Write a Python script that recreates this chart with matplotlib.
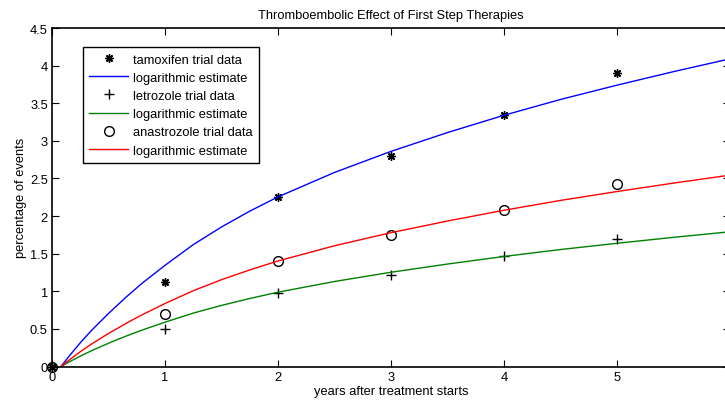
import matplotlib
matplotlib.use('Agg')
import matplotlib.pyplot as plt

plt.rcParams['font.family'] = ['Liberation Sans', 'DejaVu Sans']

# trial data
years = [0, 1, 2, 3, 4, 5]
tamoxifen = [0, 1.12, 2.25, 2.80, 3.35, 3.90]
letrozole = [0, 0.50, 0.98, 1.22, 1.47, 1.70]
anastrozole = [0, 0.70, 1.40, 1.75, 2.08, 2.43]

# logarithmic estimates
est_x = [0.08, 0.15, 0.25, 0.35, 0.5, 0.65, 0.8, 1.0, 1.25, 1.5, 1.75, 2.0,
         2.5, 3.0, 3.5, 4.0, 4.5, 5.0, 5.5, 6.0]
est_tamoxifen = [0, 0.135, 0.315, 0.48, 0.705, 0.915, 1.11, 1.345, 1.62, 1.855, 2.065, 2.255,
                 2.58, 2.86, 3.11, 3.34, 3.55, 3.74, 3.92, 4.09]
est_letrozole = [0, 0.059, 0.138, 0.210, 0.309, 0.401, 0.486, 0.589, 0.710, 0.812, 0.904, 0.988,
                 1.130, 1.253, 1.362, 1.463, 1.555, 1.638, 1.717, 1.791]
est_anastrozole = [0, 0.084, 0.196, 0.299, 0.439, 0.569, 0.690, 0.837, 1.008, 1.154, 1.284, 1.403,
                   1.605, 1.779, 1.934, 2.077, 2.208, 2.326, 2.438, 2.544]

fig = plt.figure(figsize=(7.25, 4.02), dpi=100)
ax = fig.add_axes([52 / 725, 34.5 / 402, 678 / 725, 338.5 / 402])

asterisk = (8, 2, 0)
ax.plot(years, tamoxifen, linestyle='none', marker=asterisk, color='black',
        markersize=6, markeredgewidth=1, clip_on=False, label='tamoxifen trial data')
ax.plot(est_x, est_tamoxifen, color='blue', linewidth=1, label='logarithmic estimate')
ax.plot(years, letrozole, linestyle='none', marker='+', color='black',
        markersize=7, markeredgewidth=1, clip_on=False, label='letrozole trial data')
ax.plot(est_x, est_letrozole, color='green', linewidth=1, label='logarithmic estimate')
ax.plot(years, anastrozole, linestyle='none', marker='o', markerfacecolor='none',
        markeredgecolor='black', markersize=7, markeredgewidth=1, clip_on=False,
        label='anastrozole trial data')
ax.plot(est_x, est_anastrozole, color='red', linewidth=1, label='logarithmic estimate')

ax.set_xlim(0, 6)
ax.set_ylim(0, 4.5)
ax.set_xticks([0, 1, 2, 3, 4, 5])
ax.set_yticks([0, 0.5, 1, 1.5, 2, 2.5, 3, 3.5, 4, 4.5])
ax.set_yticklabels(['0', '0.5', '1', '1.5', '2', '2.5', '3', '3.5', '4', '4.5'])
ax.tick_params(direction='in', length=5, width=0.8, top=True, right=True,
               labelsize=9.3, pad=3)
for s in ax.spines.values():
    s.set_linewidth(1.2)

ax.set_title('Thromboembolic Effect of First Step Therapies', fontsize=9.3, pad=7)
ax.set_xlabel('years after treatment starts', fontsize=9.3, labelpad=2)
ax.set_ylabel('percentage of events', fontsize=9.3, labelpad=2)

leg = ax.legend(loc='upper left', bbox_to_anchor=(31 / 678, 1 - 19 / 338.5),
                borderaxespad=0, fontsize=9.3, fancybox=False, framealpha=1,
                edgecolor='black', handlelength=3.0, handletextpad=0.4,
                labelspacing=0.48, borderpad=0.5)
leg.get_frame().set_linewidth(1.0)

fig.savefig('out.png', dpi=100)
